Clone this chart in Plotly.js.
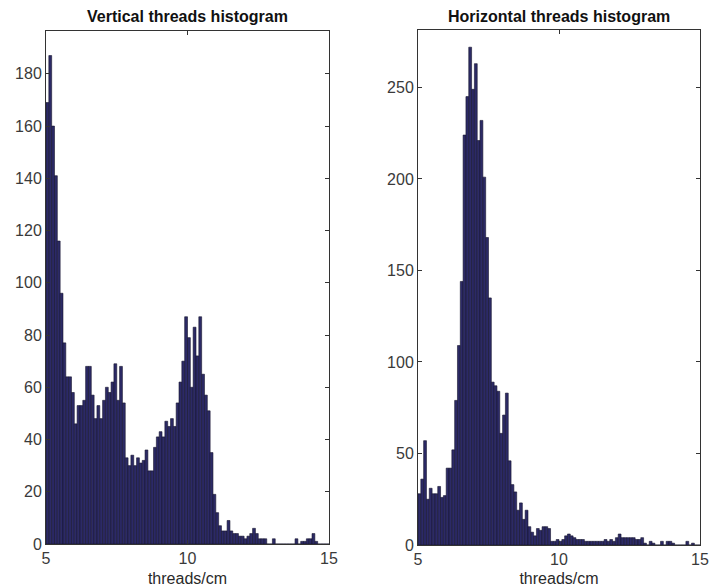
<!DOCTYPE html>
<html>
<head>
<meta charset="utf-8">
<script src="https://cdn.plot.ly/plotly-3.0.1.min.js"></script>
<style>
  html, body { margin: 0; padding: 0; background: #ffffff; }
  #chart { width: 709px; height: 587px; }
</style>
</head>
<body>
<div id="chart"></div>
<script>
// Histogram bins: 100 bins of width 0.1 from 5 to 15 (threads/cm)
const binStart = 5;
const binWidth = 0.1;

// Vertical threads counts per bin
const verticalCounts = [
  169, 187, 160, 141, 116, 96, 77, 64, 64, 58,
  46, 53, 53, 55, 68, 68, 57, 48, 53, 48,
  55, 60, 58, 62, 69, 55, 68, 54, 33, 30,
  34, 30, 33, 31, 32, 36, 28, 28, 37, 41,
  43, 41, 47, 45, 48, 45, 54, 62, 70, 87,
  79, 60, 83, 72, 87, 65, 57, 51, 35, 19,
  12, 7, 5, 5, 9, 5, 4, 4, 3, 3,
  2, 3, 4, 6, 4, 2, 2, 2, 0, 0,
  2, 0, 0, 0, 0, 0, 0, 0, 2, 0,
  1, 1, 2, 2, 4, 1, 0, 0, 0, 0
];

// Horizontal threads counts per bin
const horizontalCounts = [
  28, 36, 57, 25, 31, 28, 28, 32, 26, 27,
  42, 42, 52, 79, 109, 144, 224, 245, 272, 249,
  263, 221, 232, 201, 168, 135, 89, 87, 84, 61,
  71, 83, 46, 33, 29, 19, 23, 14, 19, 10,
  7, 5, 9, 8, 10, 10, 9, 2, 2, 3,
  2, 3, 5, 6, 5, 4, 3, 3, 3, 2,
  2, 2, 2, 2, 2, 2, 3, 2, 3, 2,
  4, 6, 4, 4, 4, 4, 4, 3, 3, 4,
  1, 0, 2, 1, 0, 0, 2, 0, 2, 2,
  1, 0, 0, 0, 0, 2, 0, 1, 0, 0
];

const titles = ["Vertical threads histogram", "Horizontal threads histogram"];
const xLabel = "threads/cm";
const xTicks = [5, 10, 15];
const yTicksLeft = [0, 20, 40, 60, 80, 100, 120, 140, 160, 180];
const yTicksRight = [0, 50, 100, 150, 200, 250];

const W = 709, H = 587;
const barFill = '#2c2a66';
const barEdge = '#15142e';
const fontFam = '"Liberation Sans", Arial, Helvetica, sans-serif';

const traces = [
  {
    type: 'bar', y: verticalCounts, x0: binStart + binWidth / 2, dx: binWidth,
    width: binWidth, xaxis: 'x', yaxis: 'y',
    marker: { color: barFill, line: { color: barEdge, width: 0.6 } },
    hoverinfo: 'skip', showlegend: false
  },
  {
    type: 'bar', y: horizontalCounts, x0: binStart + binWidth / 2, dx: binWidth,
    width: binWidth, xaxis: 'x2', yaxis: 'y2',
    marker: { color: barFill, line: { color: barEdge, width: 0.6 } },
    hoverinfo: 'skip', showlegend: false
  }
];

const axisCommon = {
  showgrid: false, zeroline: false, showline: true, linecolor: '#333', linewidth: 1,
  mirror: 'ticks', ticks: 'inside', ticklen: 4, tickcolor: '#333', tickwidth: 1,
  tickfont: { family: fontFam, size: 16, color: '#3a3a3a' }, automargin: false,
  fixedrange: true
};

const yBottom = (H - 544) / H, yTop = (H - 31) / H;

const layout = {
  width: W, height: H,
  margin: { l: 0, r: 0, t: 0, b: 0 },
  paper_bgcolor: '#ffffff', plot_bgcolor: '#ffffff',
  bargap: 0, barmode: 'overlay',
  font: { family: fontFam, color: '#222' },
  xaxis: Object.assign({}, axisCommon, {
    domain: [46 / W, 329 / W], range: [5, 15], tickvals: xTicks, ticktext: xTicks.map(String),
    anchor: 'y', title: { text: xLabel, font: { family: fontFam, size: 16, color: '#2a2a2a' } }
  }),
  yaxis: Object.assign({}, axisCommon, {
    domain: [yBottom, yTop], range: [0, 196.4], tickvals: yTicksLeft, anchor: 'x'
  }),
  xaxis2: Object.assign({}, axisCommon, {
    domain: [418 / W, 700 / W], range: [5, 15], tickvals: xTicks, ticktext: xTicks.map(String),
    anchor: 'y2', title: { text: xLabel, font: { family: fontFam, size: 16, color: '#2a2a2a' } }
  }),
  yaxis2: Object.assign({}, axisCommon, {
    domain: [(H - 545) / H, (H - 30) / H], range: [0, 281.4], tickvals: yTicksRight, anchor: 'x2'
  }),
  annotations: [
    { text: '<b>' + titles[0] + '</b>', xref: 'paper', yref: 'paper',
      x: (46 + 329) / 2 / W, y: (H - 16) / H, xanchor: 'center', yanchor: 'middle',
      showarrow: false, font: { family: fontFam, size: 16, color: '#111' } },
    { text: '<b>' + titles[1] + '</b>', xref: 'paper', yref: 'paper',
      x: (418 + 700) / 2 / W, y: (H - 16) / H, xanchor: 'center', yanchor: 'middle',
      showarrow: false, font: { family: fontFam, size: 16, color: '#111' } }
  ]
};

Plotly.newPlot('chart', traces, layout, { staticPlot: true, displayModeBar: false });
</script>
</body>
</html>
